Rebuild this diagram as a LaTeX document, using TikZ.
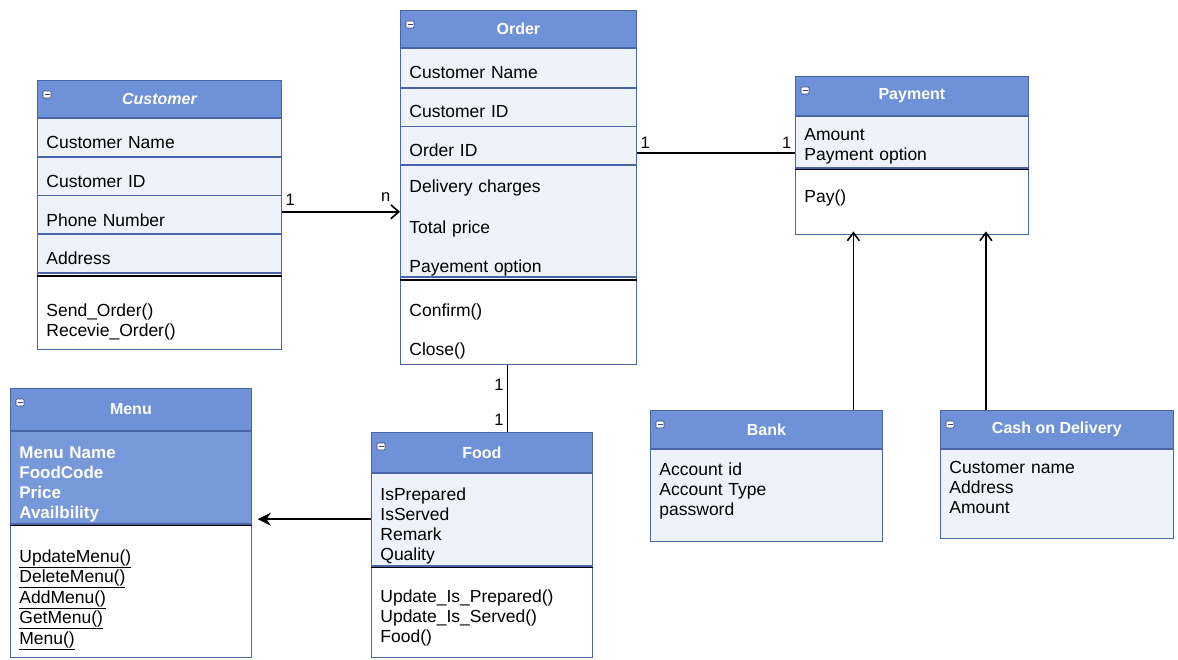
\documentclass[tikz,border=0pt]{standalone}
\usepackage{fontspec}
\setmainfont{Liberation Sans}
\usetikzlibrary{positioning,arrows.meta}
\definecolor{umlhead}{HTML}{6E91D7}
\definecolor{umlbody}{HTML}{EEF2FA}
\definecolor{umledge}{HTML}{4A64A8}
\tikzset{classhead/.style={draw=umledge,line width=0.8pt,fill=umlhead,text=white,inner sep=0pt,font=\fontsize{16pt}{19pt}\selectfont\bfseries}}
\tikzset{attrrow/.style={draw=umledge,line width=0.8pt,fill=umlbody,inner xsep=9pt,inner ysep=0pt,align=left,text width=#1,font=\fontsize{17.5pt}{20pt}\selectfont}}
\tikzset{methrow/.style={attrrow=#1,fill=white}}
\tikzset{drop/.style={execute at begin node={\rule{0pt}{#1}}}}
\tikzset{lift/.style={execute at end node={\par\vspace*{#1}}}}
\tikzset{sepline/.style={line width=1.4pt,black}}
\tikzset{link/.style={line width=1.6pt}}
\tikzset{mult/.style={font=\fontsize{16.5pt}{19pt}\selectfont,inner sep=3pt}}
\tikzset{icon/.style={draw=umledge!70!black,fill=white,rounded corners=1pt,line width=0.6pt}}

\begin{document}
\begin{tikzpicture}[x=1pt,y=-1pt]
	\useasboundingbox[fill=white] (0,0) rectangle (1178,660);

	%% Customer
	\node[classhead,minimum width=244pt,minimum height=37pt,anchor=north west] (chead) at (37,80) {\itshape Customer};
	\node[attrrow=226pt,drop=22.8pt,minimum height=38pt,below=0pt of chead] (cname) {Customer Name};
	\node[attrrow=226pt,drop=22.8pt,minimum height=38pt,below=0pt of cname] (cid) {Customer ID};
	\node[attrrow=226pt,drop=22.8pt,minimum height=38pt,below=0pt of cid] (cphone) {Phone Number};
	\node[attrrow=226pt,drop=22.8pt,minimum height=38pt,below=0pt of cphone] (caddr) {Address};
	\node[methrow=226pt,drop=34.8pt,minimum height=76pt,below=0pt of caddr] (cmeth) {Send\_Order()\\Recevie\_Order()};
	\draw[sepline] ([yshift=-3pt]cmeth.north west) -- ([yshift=-3pt]cmeth.north east);

	%% Order
	\node[classhead,minimum width=236pt,minimum height=37pt,anchor=north west] (ohead) at (400,10) {Order};
	\node[attrrow=218pt,drop=20.8pt,minimum height=39pt,below=0pt of ohead] (oname) {Customer Name};
	\node[attrrow=218pt,drop=20.8pt,minimum height=38pt,below=0pt of oname] (ocid) {Customer ID};
	\node[attrrow=218pt,drop=20.8pt,minimum height=38pt,below=0pt of ocid] (oid) {Order ID};
	\node[attrrow=218pt,drop=26.8pt,minimum height=111pt,below=0pt of oid] (oblock) {Delivery charges\\[21pt]Total price\\[19pt]Payement option};
	\node[methrow=218pt,drop=34.8pt,minimum height=87pt,below=0pt of oblock] (ometh) {Confirm()\\[19pt]Close()};
	\draw[sepline] ([yshift=-3pt]ometh.north west) -- ([yshift=-3pt]ometh.north east);

	%% Payment
	\node[classhead,minimum width=233pt,minimum height=39pt,anchor=north west] (phead) at (795,76) {Payment};
	\node[attrrow=215pt,drop=21.8pt,minimum height=51pt,below=0pt of phead] (pattr) {Amount\\Payment option};
	\node[methrow=215pt,lift=6pt,minimum height=66pt,below=0pt of pattr] (pmeth) {Pay()};
	\draw[sepline] ([yshift=-2pt]pmeth.north west) -- ([yshift=-2pt]pmeth.north east);

	%% Menu
	\node[classhead,minimum width=241pt,minimum height=42pt,anchor=north west] (mhead) at (10,388) {Menu};
	\node[attrrow=223pt,drop=26.8pt,fill=umlhead!94!white,text=white,font=\fontsize{17pt}{20pt}\selectfont\bfseries,minimum height=92pt,below=0pt of mhead] (mattr) {Menu Name\\FoodCode\\Price\\Availbility};
	\node[methrow=223pt,drop=30.8pt,minimum height=133pt,below=0pt of mattr] (mmeth) {\underline{UpdateMenu()}\\[0.5pt]\underline{DeleteMenu()}\\[0.5pt]\underline{AddMenu()}\\[0.5pt]\underline{GetMenu()}\\[0.5pt]\underline{Menu()}};
	\draw[sepline] ([yshift=-2pt]mmeth.north west) -- ([yshift=-2pt]mmeth.north east);

	%% Food
	\node[classhead,minimum width=221pt,minimum height=40pt,anchor=north west] (fhead) at (371,432) {Food};
	\node[attrrow=203pt,drop=26.8pt,minimum height=92pt,below=0pt of fhead] (fattr) {IsPrepared\\IsServed\\Remark\\Quality};
	\node[methrow=203pt,drop=24.8pt,minimum height=91pt,below=0pt of fattr] (fmeth) {Update\_Is\_Prepared()\\Update\_Is\_Served()\\Food()};
	\draw[sepline] ([yshift=-2pt]fmeth.north west) -- ([yshift=-2pt]fmeth.north east);

	%% Bank and Cash on Delivery
	\node[classhead,minimum width=232pt,minimum height=38pt,anchor=north west] (bhead) at (650,410) {Bank};
	\node[attrrow=214pt,lift=8pt,minimum height=92pt,below=0pt of bhead] (battr) {Account id\\Account Type\\password};
	\node[classhead,minimum width=233pt,minimum height=38pt,anchor=north west] (khead) at (940,410) {Cash on Delivery};
	\node[attrrow=215pt,lift=12pt,minimum height=89pt,below=0pt of khead] (kattr) {Customer name\\Address\\Amount};

	% little collapse boxes in the headers
	\foreach \h in {chead,ohead,phead,mhead,fhead,bhead,khead} {
		\draw[icon] ([shift={(6pt,-11pt)}]\h.north west) rectangle ++(8pt,-7pt);
		\draw[umledge!70!black,line width=1pt] ([shift={(7.5pt,-14.5pt)}]\h.north west) -- ++(5pt,0pt);
	}

	%% Associations
	\draw[link,-{Straight Barb[length=8pt,width=14pt]}] ([yshift=3pt]cphone.east) -- ([yshift=3pt]cphone.east -| oblock.west)
		node[mult,pos=0,above right,yshift=2pt] (m1) {1}
		node[mult,pos=1,above left,xshift=-6pt,yshift=6pt] (m2) {n};
	\draw[link] ([yshift=-7pt]oid.east) -- ([yshift=-7pt]oid.east -| pattr.west)
		node[mult,pos=0,above right] (m3) {1}
		node[mult,pos=1,above left] (m4) {1};
	\draw[link] ([xshift=-11pt]ometh.south) -- ([xshift=-11pt]ometh.south |- fhead.north)
		node[mult,pos=0.3,left] (m5) {1}
		node[mult,pos=0.82,left] (m6) {1};
	\draw[link,shorten >=6pt,-{Stealth[length=13pt,width=13pt]}] (fattr.west) -- (fattr.west -| mattr.east);

	% generalisation to Payment
	\draw[link,shorten >=-3pt,-{Straight Barb[length=8pt,width=12pt]}] ([xshift=87pt]bhead.north) -- ([xshift=87pt]bhead.north |- pmeth.south);
	\draw[link,shorten >=-3pt,-{Straight Barb[length=8pt,width=12pt]}] ([xshift=-71pt]khead.north) -- ([xshift=-71pt]khead.north |- pmeth.south);
\end{tikzpicture}
\end{document}
